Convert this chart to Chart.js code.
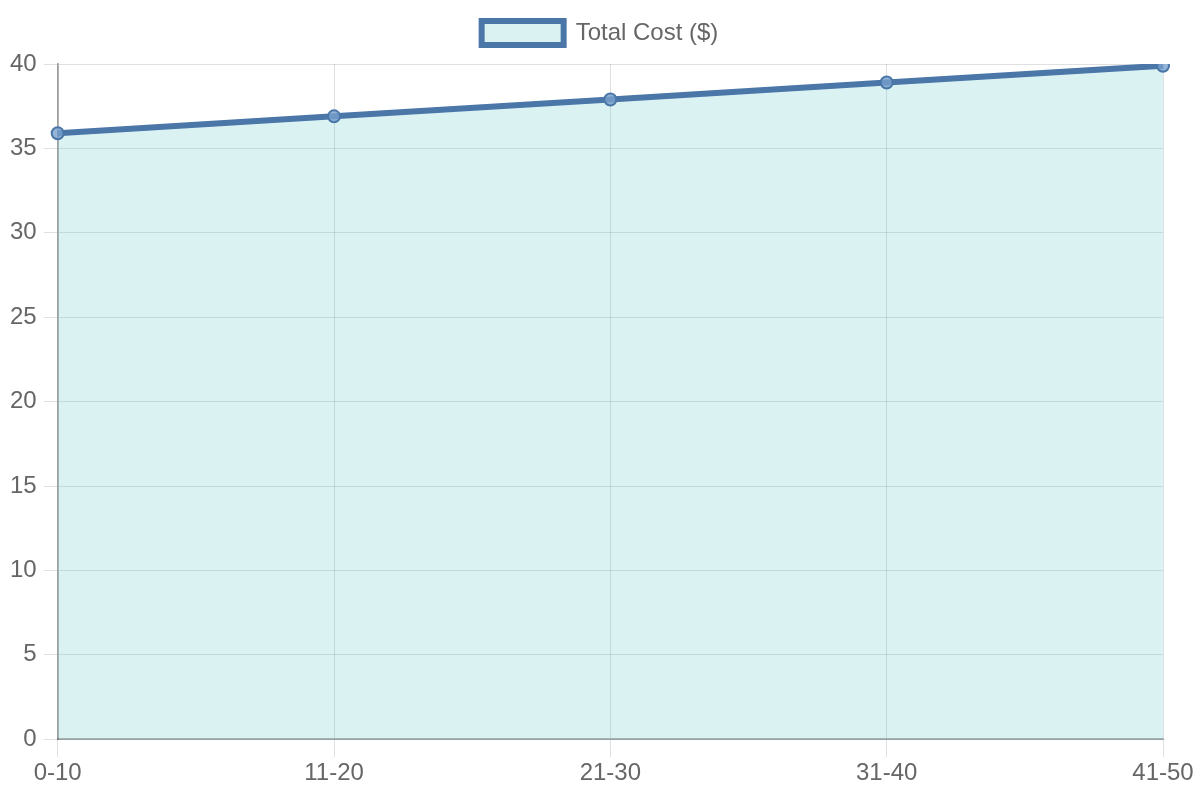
<!DOCTYPE html>
<html>
<head>
<meta charset="utf-8">
<script src="https://cdn.jsdelivr.net/npm/chart.js@4"></script>
<style>
  html, body { margin: 0; padding: 0; background: #fff; }
  #wrap { width: 1200px; height: 800px; }
</style>
</head>
<body>
<div id="wrap"><canvas id="costChart"></canvas></div>
<script>
// Data
const ageGroups = ['0-10', '11-20', '21-30', '31-40', '41-50'];
const totalCost = [35.9, 36.9, 37.9, 38.9, 39.9];

Chart.defaults.font.family = '"Liberation Sans", Arial, sans-serif';
Chart.defaults.font.size = 24;
Chart.defaults.color = '#666';

// a bit more room under the legend, and keep it centred on the page
const legendGap = {
  id: 'legendGap',
  beforeInit(chart) {
    const fit = chart.legend.fit;
    chart.legend.fit = function () {
      fit.bind(chart.legend)();
      this.height += 9;
    };
  },
  afterLayout(chart) {
    chart.legend.left += 17;
    chart.legend.right += 17;
  }
};

new Chart(document.getElementById('costChart').getContext('2d'), {
  type: 'line',
  data: {
    labels: ageGroups,
    datasets: [{
      label: 'Total Cost ($)',
      data: totalCost,
      fill: true,
      backgroundColor: 'rgba(75, 192, 192, 0.2)',
      borderColor: 'rgba(74, 118, 168, 1)',
      borderWidth: 6,
      pointRadius: 6,
      pointBorderWidth: 2,
      pointBackgroundColor: 'rgba(120, 160, 205, 0.8)',
      pointBorderColor: 'rgba(74, 118, 168, 1)',
      tension: 0
    }]
  },
  options: {
    responsive: true,
    maintainAspectRatio: false,
    animation: false,
    layout: { padding: { top: 9, right: 37, bottom: 10, left: 3 } },
    plugins: {
      legend: {
        labels: { boxWidth: 82, boxHeight: 24, padding: 12 }
      }
    },
    scales: {
      x: {
        grid: { color: 'rgba(0,0,0,0.12)', tickLength: 18 },
        border: { color: 'rgba(0,0,0,0.3)', width: 2 },
        ticks: { padding: 2 }
      },
      y: {
        beginAtZero: true,
        max: 40,
        ticks: { stepSize: 5, padding: 7 },
        grid: { color: 'rgba(0,0,0,0.12)', tickLength: 14 },
        border: { color: 'rgba(0,0,0,0.3)', width: 2 }
      }
    }
  },
  plugins: [legendGap]
});
</script>
</body>
</html>
